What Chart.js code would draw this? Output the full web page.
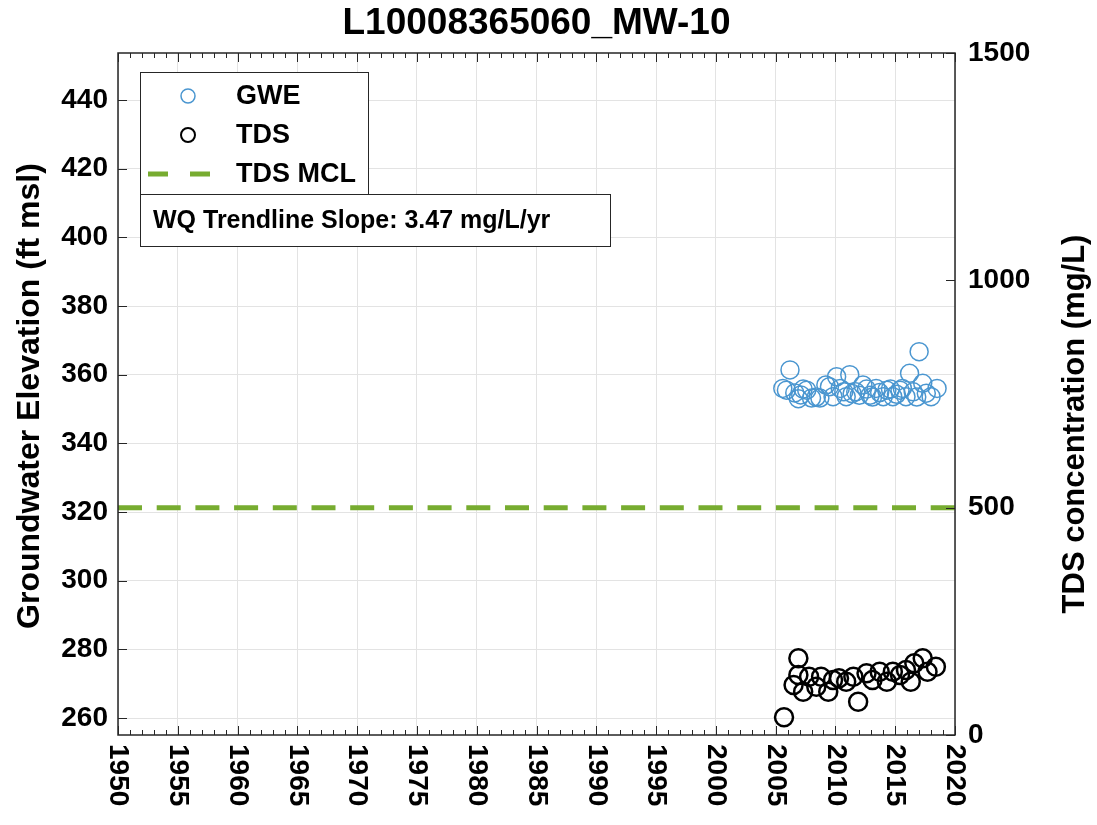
<!DOCTYPE html>
<html>
<head>
<meta charset="utf-8">
<script src="https://cdn.jsdelivr.net/npm/chart.js@4"></script>
<style>
  html, body { margin: 0; padding: 0; background: #fff; }
  #wrap { width: 1097px; height: 825px; }
</style>
</head>
<body>
<div id="wrap"><canvas id="chart" width="1097" height="825"></canvas></div>
<script>
const chartTitle = 'L10008365060_MW-10';
const yTitleLeft = 'Groundwater Elevation (ft msl)';
const yTitleRight = 'TDS concentration (mg/L)';
const slopeText = 'WQ Trendline Slope: 3.47 mg/L/yr';

const xTicks = [1950, 1955, 1960, 1965, 1970, 1975, 1980, 1985, 1990, 1995, 2000, 2005, 2010, 2015, 2020];
const yLeftTicks = [260, 280, 300, 320, 340, 360, 380, 400, 420, 440];
const yRightTicks = [0, 500, 1000, 1500];

const gweYears = [2005.6, 2005.9, 2006.2, 2006.6, 2006.9, 2007.1, 2007.3, 2007.6, 2008.0, 2008.4, 2008.7, 2009.2, 2009.5, 2009.8, 2010.1, 2010.4, 2010.7, 2010.9, 2011.2, 2011.4, 2011.7, 2012.0, 2012.3, 2012.6, 2012.9, 2013.1, 2013.4, 2013.7, 2014.0, 2014.3, 2014.6, 2014.8, 2015.1, 2015.4, 2015.6, 2015.9, 2016.2, 2016.5, 2016.8, 2017.0, 2017.3, 2017.6, 2018.0, 2018.5];
const gweElev = [356.0, 355.5, 361.4, 354.7, 353.0, 354.1, 355.8, 355.5, 353.2, 353.5, 353.2, 357.0, 356.5, 353.6, 359.4, 356.0, 355.0, 353.6, 360.0, 354.5, 355.0, 354.0, 357.0, 355.8, 354.0, 353.5, 356.0, 354.8, 353.6, 355.5, 355.8, 353.6, 354.3, 355.5, 356.0, 353.6, 360.4, 355.0, 353.5, 366.7, 357.5, 354.6, 353.6, 356.0];

const tdsYears = [2005.7, 2006.5, 2006.9, 2006.9, 2007.3, 2007.8, 2008.4, 2008.8, 2009.4, 2009.8, 2010.3, 2010.9, 2011.5, 2011.9, 2012.6, 2013.1, 2013.7, 2014.3, 2014.8, 2015.4, 2015.9, 2016.3, 2016.6, 2017.3, 2017.7, 2018.4];
const tdsValues = [39, 110, 169, 132, 95, 128, 106, 128, 95, 121, 125, 117, 128, 73, 136, 121, 139, 117, 139, 132, 143, 117, 158, 169, 139, 150];

const mclYears = [1950, 2020];
const mclValues = [500, 500];

const FONT = "'Liberation Sans', Arial, Helvetica, sans-serif";
const BLUE = '#4a96d0';
const GREEN = '#77ac30';
const FRAME = '#262626';

function toPoints(xs, ys) {
    return xs.map((x, i) => ({ x: x, y: ys[i] }));
}

const decorations = {
    id: 'decorations',
    afterDraw(chart) {
        const ctx = chart.ctx;
        const area = chart.chartArea;
        const xs = chart.scales.x;
        const yl = chart.scales.y;
        const yr = chart.scales.y1;
        ctx.save();

        // frame
        ctx.strokeStyle = FRAME;
        ctx.lineWidth = 1.5;
        ctx.strokeRect(area.left, area.top, area.right - area.left, area.bottom - area.top);

        // x ticks, minor every year, top and bottom
        ctx.lineWidth = 1;
        for (let yr0 = 1950; yr0 <= 2020; yr0++) {
            const px = Math.round(xs.getPixelForValue(yr0)) + 0.5;
            const len = yr0 % 5 === 0 ? 9 : 5;
            ctx.beginPath();
            ctx.moveTo(px, area.bottom);
            ctx.lineTo(px, area.bottom - len);
            ctx.moveTo(px, area.top);
            ctx.lineTo(px, area.top + len);
            ctx.stroke();
        }
        yLeftTicks.forEach(v => {
            const py = Math.round(yl.getPixelForValue(v)) + 0.5;
            ctx.beginPath();
            ctx.moveTo(area.left, py);
            ctx.lineTo(area.left + 9, py);
            ctx.stroke();
        });
        yRightTicks.forEach(v => {
            const py = Math.round(yr.getPixelForValue(v)) + 0.5;
            ctx.beginPath();
            ctx.moveTo(area.right, py);
            ctx.lineTo(area.right - 9, py);
            ctx.stroke();
        });

        // x tick labels, rotated clockwise
        ctx.fillStyle = '#000';
        ctx.font = 'bold 28px ' + FONT;
        ctx.textAlign = 'left';
        ctx.textBaseline = 'middle';
        xTicks.forEach(v => {
            const px = xs.getPixelForValue(v);
            ctx.save();
            ctx.translate(px, area.bottom + 9);
            ctx.rotate(Math.PI / 2);
            ctx.fillText(String(v), 0, 0);
            ctx.restore();
        });

        // title
        ctx.font = 'bold 37px ' + FONT;
        ctx.textAlign = 'center';
        ctx.fillText(chartTitle, (area.left + area.right) / 2, 24);

        // axis titles
        ctx.font = 'bold 32px ' + FONT;
        ctx.save();
        ctx.translate(30, 396);
        ctx.rotate(-Math.PI / 2);
        ctx.fillText(yTitleLeft, 0, 0);
        ctx.restore();
        ctx.font = 'bold 31px ' + FONT;
        ctx.save();
        ctx.translate(1075, 424);
        ctx.rotate(-Math.PI / 2);
        ctx.fillText(yTitleRight, 0, 0);
        ctx.restore();

        // legend box
        ctx.fillStyle = '#fff';
        ctx.fillRect(140, 72, 228, 122);
        ctx.strokeStyle = FRAME;
        ctx.lineWidth = 1;
        ctx.strokeRect(140.5, 72.5, 228, 122);

        ctx.lineWidth = 1.5;
        ctx.strokeStyle = BLUE;
        ctx.beginPath();
        ctx.arc(188, 96, 7, 0, Math.PI * 2);
        ctx.stroke();
        ctx.lineWidth = 2;
        ctx.strokeStyle = '#000';
        ctx.beginPath();
        ctx.arc(188, 135, 7, 0, Math.PI * 2);
        ctx.stroke();
        ctx.lineWidth = 5;
        ctx.strokeStyle = GREEN;
        ctx.setLineDash([20, 22]);
        ctx.beginPath();
        ctx.moveTo(148, 174);
        ctx.lineTo(210, 174);
        ctx.stroke();
        ctx.setLineDash([]);

        ctx.fillStyle = '#000';
        ctx.font = 'bold 27px ' + FONT;
        ctx.textAlign = 'left';
        ctx.fillText('GWE', 236, 97);
        ctx.fillText('TDS', 236, 136);
        ctx.fillText('TDS MCL', 236, 175);

        // slope text box
        ctx.fillStyle = '#fff';
        ctx.fillRect(140, 194, 470, 52);
        ctx.strokeStyle = FRAME;
        ctx.lineWidth = 1;
        ctx.strokeRect(140.5, 194.5, 470, 52);
        ctx.fillStyle = '#000';
        ctx.font = 'bold 25px ' + FONT;
        ctx.fillText(slopeText, 153, 221);

        ctx.restore();
    }
};

const ctx = document.getElementById('chart').getContext('2d');
const chart = new Chart(ctx, {
    type: 'scatter',
    data: {
        datasets: [{
            label: 'GWE',
            data: toPoints(gweYears, gweElev),
            yAxisID: 'y',
            borderColor: BLUE,
            backgroundColor: 'rgba(0,0,0,0)',
            borderWidth: 1.5,
            pointRadius: 9
        }, {
            label: 'TDS',
            data: toPoints(tdsYears, tdsValues),
            yAxisID: 'y1',
            borderColor: '#000',
            backgroundColor: 'rgba(0,0,0,0)',
            borderWidth: 2.5,
            pointRadius: 9
        }, {
            label: 'TDS MCL',
            type: 'line',
            data: toPoints(mclYears, mclValues),
            yAxisID: 'y1',
            borderColor: GREEN,
            borderWidth: 5,
            borderDash: [24, 14.7],
            pointRadius: 0,
            fill: false
        }]
    },
    options: {
        responsive: false,
        animation: false,
        layout: { padding: { top: 53, left: 0, right: 0, bottom: 0 } },
        plugins: {
            legend: { display: false },
            tooltip: { enabled: false },
            title: { display: false }
        },
        scales: {
            x: {
                type: 'linear',
                min: 1950,
                max: 2020,
                ticks: { display: false, stepSize: 5 },
                afterBuildTicks: s => { s.ticks = xTicks.map(v => ({ value: v })); },
                afterFit: s => { s.height = 90; },
                grid: { color: '#e3e3e3', lineWidth: 1, drawTicks: false },
                border: { display: false }
            },
            y: {
                position: 'left',
                min: 255.05,
                max: 453.7,
                afterBuildTicks: s => { s.ticks = yLeftTicks.map(v => ({ value: v })); },
                afterFit: s => { s.width = 118; },
                ticks: {
                    color: '#000',
                    padding: 10,
                    font: { family: FONT, size: 28, weight: 'bold' },
                    callback: v => String(v)
                },
                grid: { color: '#e3e3e3', lineWidth: 1, drawTicks: false },
                border: { display: false }
            },
            y1: {
                position: 'right',
                min: 0,
                max: 1500,
                afterBuildTicks: s => { s.ticks = yRightTicks.map(v => ({ value: v })); },
                afterFit: s => { s.width = 142; },
                ticks: {
                    color: '#000',
                    padding: 13,
                    font: { family: FONT, size: 28, weight: 'bold' },
                    callback: v => String(v)
                },
                grid: { drawOnChartArea: false, drawTicks: false },
                border: { display: false }
            }
        }
    },
    plugins: [decorations]
});
</script>
</body>
</html>
